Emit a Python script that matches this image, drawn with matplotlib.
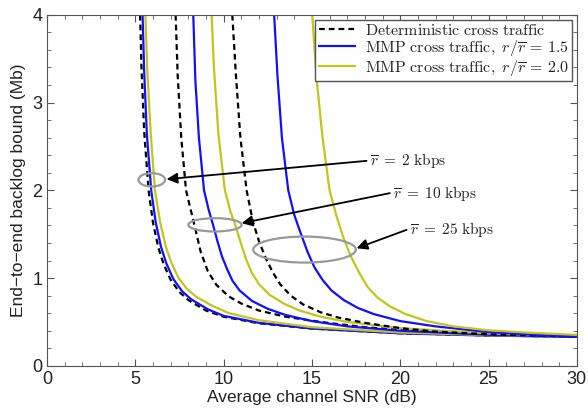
import numpy as np
import matplotlib
matplotlib.use("Agg")
import matplotlib.pyplot as plt
from matplotlib.patches import Ellipse
from matplotlib.ticker import MultipleLocator

plt.rcParams['font.family'] = ['Liberation Sans', 'DejaVu Sans']
plt.rcParams['mathtext.fontset'] = 'cm'

# values (x: SNR in dB, y: backlog bound in Mb)
det_2_x = [5.27, 5.35, 5.5, 5.75, 6.0, 6.3, 6.6, 7.0, 7.5, 8.0, 9.0, 10, 12, 15, 20, 25, 30]
det_2_y = [4.0, 3.39, 2.67, 2.0, 1.63, 1.35, 1.16, 0.98, 0.84, 0.75, 0.63, 0.56, 0.485, 0.425, 0.372, 0.347, 0.332]
mmp15_2_x = [5.41, 5.5, 5.65, 5.9, 6.15, 6.45, 6.75, 7.15, 7.65, 8.15, 9.1, 10, 12, 15, 20, 25, 30]
mmp15_2_y = [4.0, 3.35, 2.65, 2.0, 1.64, 1.36, 1.17, 0.99, 0.85, 0.76, 0.645, 0.57, 0.49, 0.425, 0.37, 0.345, 0.33]
mmp20_2_x = [5.57, 5.68, 5.87, 6.11, 6.4, 6.72, 7.05, 7.45, 7.95, 8.5, 9.4, 10.3, 12, 15, 20, 25, 30]
mmp20_2_y = [4.0, 3.35, 2.65, 2.0, 1.64, 1.36, 1.17, 1.0, 0.87, 0.78, 0.68, 0.6, 0.52, 0.44, 0.38, 0.35, 0.335]

det_10_x = [7.28, 7.4, 7.6, 7.87, 8.35, 8.7, 9.1, 9.6, 10.3, 11.0, 12.0, 13.5, 15.5, 18, 20, 25, 30]
det_10_y = [4.0, 3.3, 2.6, 2.0, 1.6, 1.3, 1.08, 0.92, 0.79, 0.71, 0.63, 0.56, 0.5, 0.44, 0.41, 0.36, 0.335]
mmp15_10_x = [8.28, 8.4, 8.6, 8.89, 9.15, 9.41, 9.65, 9.9, 10.2, 10.5, 10.9, 11.6, 12.5, 13.5, 15, 17, 20, 25, 30]
mmp15_10_y = [4.0, 3.25, 2.6, 2.0, 1.78, 1.6, 1.42, 1.25, 1.1, 0.97, 0.86, 0.74, 0.65, 0.58, 0.51, 0.45, 0.4, 0.355, 0.333]
mmp20_10_x = [9.32, 9.45, 9.7, 10.07, 10.4, 10.7, 11.0, 11.3, 11.6, 12.0, 12.6, 13.4, 14.3, 15.5, 17, 20, 25, 30]
mmp20_10_y = [4.0, 3.4, 2.65, 2.0, 1.75, 1.58, 1.38, 1.2, 1.06, 0.93, 0.81, 0.71, 0.63, 0.56, 0.5, 0.43, 0.37, 0.34]

det_25_x = [10.49, 10.7, 10.95, 11.3, 11.65, 12.0, 12.4, 12.8, 13.2, 13.8, 14.5, 15.5, 16.5, 18, 20, 22, 25, 30]
det_25_y = [4.0, 3.3, 2.6, 2.0, 1.65, 1.42, 1.22, 1.06, 0.93, 0.8, 0.7, 0.61, 0.55, 0.49, 0.43, 0.39, 0.36, 0.335]
mmp15_25_x = [12.86, 13.05, 13.3, 13.66, 14.0, 14.35, 14.75, 15.15, 15.6, 16.1, 16.8, 17.6, 18.5, 20, 22, 25, 28, 30]
mmp15_25_y = [4.0, 3.3, 2.6, 2.0, 1.72, 1.52, 1.3, 1.12, 0.98, 0.86, 0.75, 0.66, 0.59, 0.51, 0.45, 0.385, 0.35, 0.335]
mmp20_25_x = [15.02, 15.25, 15.6, 16.0, 16.4, 16.8, 17.2, 17.65, 18.15, 18.7, 19.4, 20.3, 21.5, 23, 25, 27.5, 30]
mmp20_25_y = [4.0, 3.3, 2.6, 2.0, 1.7, 1.45, 1.25, 1.07, 0.9, 0.78, 0.68, 0.59, 0.51, 0.45, 0.405, 0.375, 0.353]

rate_labels = ['2', '10', '25']
ellipse_xy = [(5.93, 2.12), (9.51, 1.607), (14.58, 1.325)]
ellipse_wh = [(1.51, 0.152), (3.02, 0.152), (5.81, 0.296)]
arrow_tail = [(18.09, 2.336), (19.41, 1.968), (20.36, 1.55)]
arrow_head = [(6.77, 2.127), (11.02, 1.626), (17.53, 1.34)]

blue = '#1010ff'
yellow = '#c4c41a'
dash = (2.6, 1.8)

fig = plt.figure(figsize=(5.88, 4.12), dpi=100)
ax = fig.add_axes([0.080, 0.112, 0.901, 0.852])

ax.plot(det_2_x, det_2_y, color='k', lw=1.6, dashes=dash,
        label=r'$\mathrm{Deterministic\ cross\ traffic}$')
ax.plot(mmp15_2_x, mmp15_2_y, color=blue, lw=1.6,
        label=r'$\mathrm{MMP\ cross\ traffic,}\ r/\overline{r}\,=\,1.5$')
ax.plot(mmp20_2_x, mmp20_2_y, color=yellow, lw=1.6,
        label=r'$\mathrm{MMP\ cross\ traffic,}\ r/\overline{r}\,=\,2.0$')
ax.plot(det_10_x, det_10_y, color='k', lw=1.6, dashes=dash)
ax.plot(mmp15_10_x, mmp15_10_y, color=blue, lw=1.6)
ax.plot(mmp20_10_x, mmp20_10_y, color=yellow, lw=1.6)
ax.plot(det_25_x, det_25_y, color='k', lw=1.6, dashes=dash)
ax.plot(mmp15_25_x, mmp15_25_y, color=blue, lw=1.6)
ax.plot(mmp20_25_x, mmp20_25_y, color=yellow, lw=1.6)

for i in range(3):
    ax.add_patch(Ellipse(ellipse_xy[i], ellipse_wh[i][0], ellipse_wh[i][1],
                         fill=False, edgecolor='#999999', lw=1.6, zorder=5))
    ax.annotate('', xy=arrow_head[i], xytext=arrow_tail[i],
                arrowprops=dict(arrowstyle='-|>', color='k', lw=1.3,
                                mutation_scale=16, shrinkA=0, shrinkB=0), zorder=6)
    ax.text(arrow_tail[i][0] + 0.2, arrow_tail[i][1],
            r'$\overline{r}\;=\;' + rate_labels[i] + r'\ \mathrm{kbps}$',
            fontsize=11, va='center', ha='left', color='#222222')

ax.set_xlim(0, 30)
ax.set_ylim(0, 4)
ax.set_xticks([0, 5, 10, 15, 20, 25, 30])
ax.set_yticks([0, 1, 2, 3, 4])
ax.xaxis.set_minor_locator(MultipleLocator(1))
ax.yaxis.set_minor_locator(MultipleLocator(0.2))
ax.tick_params(which='both', direction='in', top=True, right=True, colors='#555555',
               labelcolor='#222222', labelsize=13)
ax.tick_params(which='major', length=5)
ax.tick_params(which='minor', length=3)
for s in ax.spines.values():
    s.set_color('#555555')

ax.set_xlabel('Average channel SNR (dB)', fontsize=12.5, color='#222222', labelpad=2)
ax.set_ylabel('End\u2212to\u2212end backlog bound (Mb)', fontsize=12.5, color='#222222', labelpad=4)

leg = ax.legend(loc='upper right', prop={'size': 11.5},
                handlelength=2.3, borderpad=0.2, labelspacing=0.0, handletextpad=0.6,
                borderaxespad=0.3, fancybox=False, framealpha=1)
leg.get_frame().set_edgecolor('#555555')
leg.get_frame().set_linewidth(1.0)
for t in leg.get_texts():
    t.set_color('#222222')

fig.savefig('out.png', dpi=100)
